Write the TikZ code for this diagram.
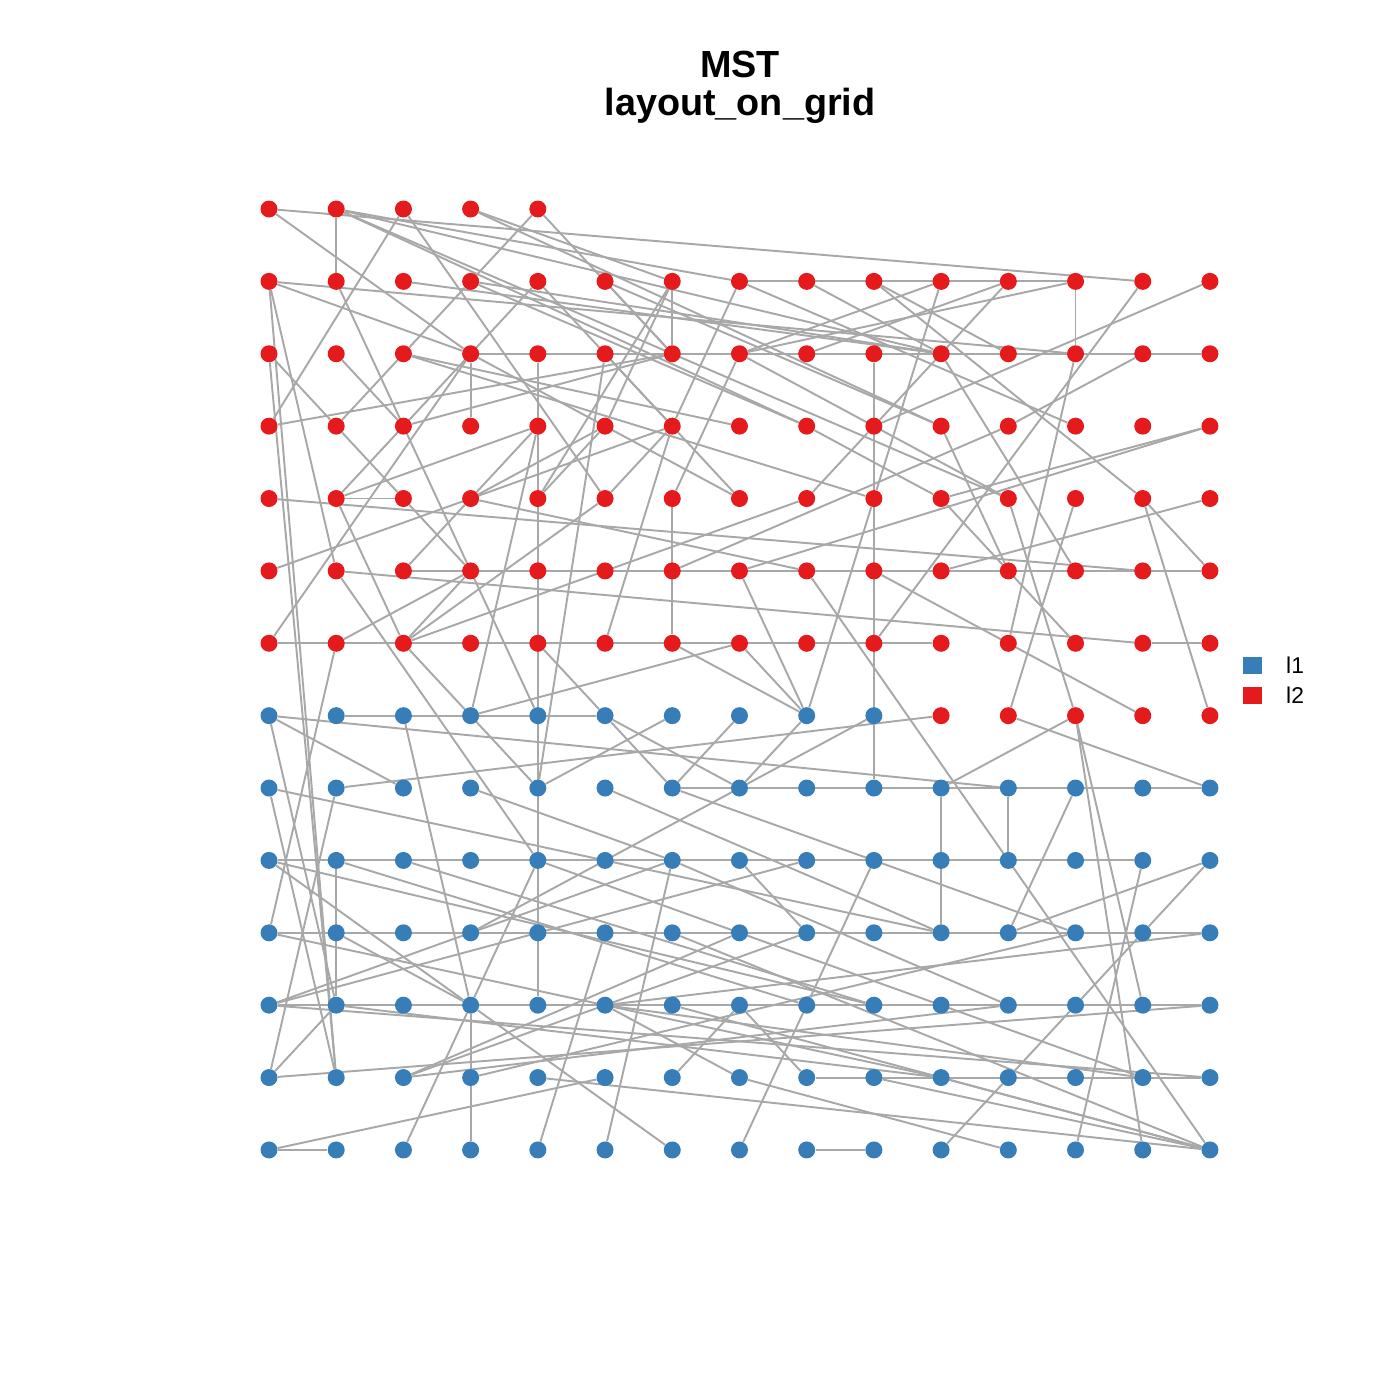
\documentclass[tikz,border=0pt]{standalone}
\usepackage{fontspec}
\setmainfont{Liberation Sans}
\usetikzlibrary{backgrounds}
\definecolor{grpred}{HTML}{E41A1C}
\definecolor{grpblue}{HTML}{377EB8}
\definecolor{edgegray}{HTML}{A8A8A8}
\tikzset{
  vtx/.style={circle, inner sep=0pt, minimum size=0.34cm},
  redvtx/.style={vtx, fill=grpred},
  bluevtx/.style={vtx, fill=grpblue},
  mstedge/.style={draw=edgegray, line width=1.1pt},
  legkey/.style={inner sep=0pt, minimum width=0.38cm, minimum height=0.34cm},
}
\begin{document}
\begin{tikzpicture}[x=0.02cm, y=-0.02cm]
\useasboundingbox (0,0) rectangle (1400,1400);

% title
\node[anchor=base, font=\bfseries\fontsize{21.5}{24}\selectfont] (title1) at (740,77) {MST};
\node[anchor=base, font=\bfseries\fontsize{21.5}{24}\selectfont] (title2) at (740,115) {layout\_on\_grid};

% vertices on the grid
\foreach \c in {0,...,4}
  \node[redvtx] (n-\c-0) at ({269+67.21*\c},209) {};
\foreach \r in {1,...,6}
  \foreach \c in {0,...,14}
    \node[redvtx] (n-\c-\r) at ({269+67.21*\c},{209+72.38*\r}) {};
\foreach \c in {0,...,9}
  \node[bluevtx] (n-\c-7) at ({269+67.21*\c},{209+72.38*7}) {};
\foreach \c in {10,...,14}
  \node[redvtx] (n-\c-7) at ({269+67.21*\c},{209+72.38*7}) {};
\foreach \r in {8,...,13}
  \foreach \c in {0,...,14}
    \node[bluevtx] (n-\c-\r) at ({269+67.21*\c},{209+72.38*\r}) {};

\begin{scope}[on background layer]
% runs along a row
\foreach \r/\s/\e in {1/7/12, 2/3/14, 4/1/2, 5/2/14, 6/0/10, 6/13/14, 7/1/5, 8/6/14,
    9/0/13, 10/0/14, 11/0/14, 12/8/14, 13/0/1, 13/8/9}
  \draw[mstedge] (n-\s-\r) -- (n-\e-\r);
% runs along a column
\foreach \c/\s/\e in {1/0/1, 3/2/3, 4/2/11, 6/1/2, 6/4/6, 9/2/8, 12/1/2, 10/8/10,
    11/8/9, 1/9/11, 3/11/13}
  \draw[mstedge] (n-\c-\s) -- (n-\c-\e);
% other tree edges
\foreach \u/\v in {0-0/13-1, 0-0/3-2, 1-0/7-1, 1-0/10-2, 1-0/8-3, 1-0/11-4,
    2-0/0-3, 2-0/5-4, 3-0/6-1, 3-0/10-3, 4-0/3-1, 3-1/2-2, 4-0/6-2,
    0-1/12-2, 0-1/3-2, 0-1/1-12, 0-1/1-5, 2-1/10-2, 3-1/10-2, 3-1/8-3,
    4-1/1-4, 4-1/6-3, 0-2/1-3, 0-2/1-12, 1-2/2-3, 2-2/1-3, 2-2/7-3, 2-2/9-4,
    0-3/6-2, 1-3/2-4, 2-3/6-2, 1-1/4-7, 1-4/4-3, 0-5/6-3, 0-4/13-5, 1-4/2-6,
    2-4/3-5, 3-4/5-3, 3-4/8-5, 4-4/6-1, 5-1/6-2, 7-1/6-3, 9-1/11-2, 9-1/13-4,
    12-1/7-2, 10-1/9-4, 10-1/7-2, 11-1/8-2, 11-1/9-3, 13-1/9-6, 14-1/9-3,
    10-2/12-5, 8-1/10-2, 13-2/11-3, 10-3/11-5, 11-3/6-5, 7-1/12-3, 14-3/10-4,
    14-3/7-5, 11-4/12-7, 12-7/13-11, 12-4/11-7, 13-4/14-7, 13-4/14-5, 14-4/10-5,
    9-5/13-7, 11-7/14-8, 12-7/10-8, 8-5/14-13, 13-9/12-13, 14-9/13-10,
    13-10/12-11, 12-11/11-12, 11-12/10-13, 14-9/11-10, 11-10/12-8, 10-12/14-13,
    7-12/11-13, 0-10/1-6, 1-10/3-11, 0-12/1-11, 2-12/8-10, 2-12/7-10, 2-12/11-11,
    2-13/3-11, 3-11/4-9, 0-13/5-12, 4-13/5-10, 5-13/6-9, 7-9/8-10, 9-9/8-11,
    8-11/7-13, 5-11/7-12, 7-11/8-12, 3-11/6-13, 7-5/8-7, 5-6/6-3, 6-6/8-7,
    7-6/8-7, 5-7/6-8, 5-7/7-8, 6-7/4-8, 7-7/6-8, 8-7/9-4, 8-7/7-8, 1-5/13-6,
    1-5/4-9, 2-5/3-4, 3-5/2-6, 0-6/3-2, 1-6/3-5, 2-6/5-4, 2-6/8-4, 2-6/4-8,
    0-7/1-11, 0-7/11-8, 0-7/2-8, 2-7/3-11, 3-7/4-3, 3-7/7-6, 0-8/1-12,
    1-8/10-7, 1-8/0-12, 5-2/6-3, 5-2/4-8, 7-2/6-4, 7-2/11-4, 6-3/5-4, 6-3/7-4,
    9-3/8-4, 8-3/10-4, 6-11/14-13, 9-12/14-13, 4-6/5-7, 0-9/9-11, 0-9/3-11,
    0-10/10-12, 0-11/6-9, 0-11/8-9, 0-11/14-12, 1-11/10-12, 1-9/8-11,
    0-8/10-10, 2-9/9-11, 4-9/13-12, 3-10/9-7, 3-12/12-10, 5-11/14-10,
    0-12/14-11, 5-11/13-12, 6-8/12-10, 6-9/11-11, 6-10/14-13, 4-12/14-13,
    12-2/11-6, 10-4/12-6, 3-8/6-9, 5-8/10-10, 6-12/7-11, 12-7/13-13,
    3-2/7-4, 3-4/4-3, 5-3/4-4, 5-1/10-3, 6-1/5-3}
  \draw[mstedge] (n-\u) -- (n-\v);
\end{scope}

% legend
\node[legkey, fill=grpblue] (key1) at (1252,665) {};
\node[legkey, fill=grpred] (key2) at (1252,695) {};
\node[anchor=west, font=\fontsize{13}{15}\selectfont] (lab1) at (1280,665) {l1};
\node[anchor=west, font=\fontsize{13}{15}\selectfont] (lab2) at (1280,695) {l2};
\end{tikzpicture}
\end{document}
